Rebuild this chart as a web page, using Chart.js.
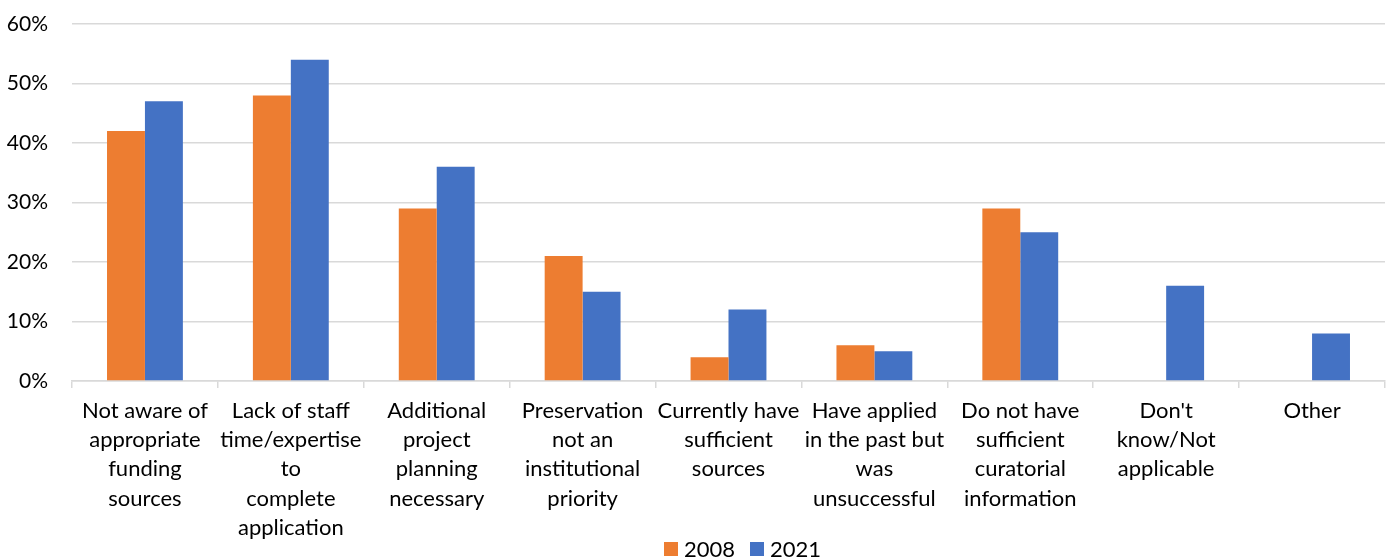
<!DOCTYPE html>
<html><head><meta charset="utf-8">
<script src="https://cdn.jsdelivr.net/npm/chart.js@4.4.1/dist/chart.umd.min.js"></script>
<style>
html,body{margin:0;padding:0;background:#fff}
#wrap{position:relative;width:1388px;height:559px}
#legend{position:absolute;left:664px;top:537px;height:24px;display:flex;align-items:center;font-family:Lato,'Open Sans',sans-serif;font-size:22px;color:#000;line-height:24px;white-space:nowrap}
#legend .item{display:flex;align-items:center;margin-right:15px}
#legend .box{width:14px;height:14px;margin-right:6px;display:inline-block}
</style>
</head><body><div id="wrap"><canvas id="c" width="1388" height="559"></canvas><div id="legend"></div></div>
<script>
const categories = [
  ["Not aware of","appropriate","funding","sources"],
  ["Lack of staff","time/expertise","to","complete","application"],
  ["Additional","project","planning","necessary"],
  ["Preservation","not an","institutional","priority"],
  ["Currently have","sufficient","sources"],
  ["Have applied","in the past but","was","unsuccessful"],
  ["Do not have","sufficient","curatorial","information"],
  ["Don't","know/Not","applicable"],
  ["Other"]
];
const series2008 = [42, 48, 29, 21, 4, 6, 29, null, null];
const series2021 = [47, 54, 36, 15, 12, 5, 25, 16, 8];
const yTicks = [0, 10, 20, 30, 40, 50, 60];
const seriesNames = ['2008', '2021'];
const seriesColors = ['#ED7D31', '#4472C4'];

const FONT = "Lato, 'Open Sans', sans-serif";
const chart = new Chart(document.getElementById('c'), {
  type: 'bar',
  data: {
    labels: categories,
    datasets: [
      {label: seriesNames[0], data: series2008, backgroundColor: seriesColors[0]},
      {label: seriesNames[1], data: series2021, backgroundColor: seriesColors[1]}
    ]
  },
  options: {
    responsive: false,
    animation: false,
    devicePixelRatio: 1,
    datasets: {bar: {barPercentage: 1, categoryPercentage: 0.52}},
    layout: {padding: {top: 0, right: 3, left: 2, bottom: 18}},
    plugins: {
      legend: {display: false},
      tooltip: {enabled: false}
    },
    scales: {
      x: {
        afterFit: (s) => { s.height = 160; },
        grid: {drawOnChartArea: false, drawTicks: true, tickLength: 7, color: '#d9d9d9', lineWidth: 1.5},
        border: {display: true, color: '#d9d9d9', width: 1.5},
        ticks: {color: '#000', font: {family: FONT, size: 22, lineHeight: 1.33}, maxRotation: 0, autoSkip: false, padding: 8}
      },
      y: {
        min: 0, max: 60,
        afterFit: (s) => { s.width = 70; s.paddingTop = 24; s.paddingBottom = 0; },
        afterBuildTicks: (s) => { s.ticks = yTicks.map(v => ({value: v})); },
        grid: {color: '#d9d9d9', lineWidth: 1.5, drawTicks: false},
        border: {display: false},
        ticks: {color: '#000', font: {family: FONT, size: 21}, padding: 24, callback: v => v + '%'}
      }
    }
  }
});

const lg = document.getElementById('legend');
chart.data.datasets.forEach(ds => {
  const it = document.createElement('span'); it.className = 'item';
  const b = document.createElement('span'); b.className = 'box'; b.style.background = ds.backgroundColor;
  const t = document.createElement('span'); t.textContent = ds.label;
  it.appendChild(b); it.appendChild(t); lg.appendChild(it);
});
</script></body></html>
